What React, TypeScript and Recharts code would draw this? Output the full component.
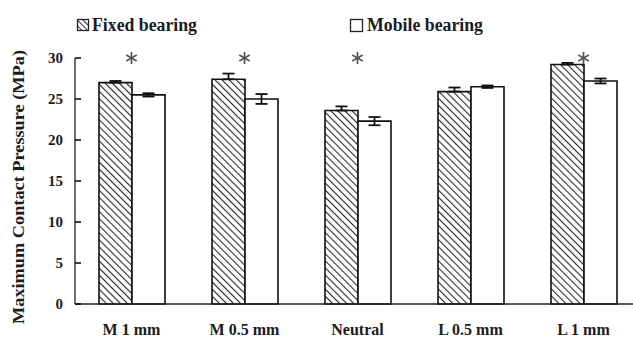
import React from 'react';
import {
  ComposedChart,
  Bar,
  Scatter,
  XAxis,
  YAxis,
  ErrorBar,
  Legend,
} from 'recharts';

// Maximum contact pressure (MPa) per tibial insert position
const categories = ['M 1 mm', 'M 0.5 mm', 'Neutral', 'L 0.5 mm', 'L 1 mm'];
const fixedValues = [27.0, 27.4, 23.6, 25.9, 29.2];
const fixedErrors = [0.2, 0.7, 0.5, 0.5, 0.2];
const mobileValues = [25.5, 25.0, 22.3, 26.5, 27.2];
const mobileErrors = [0.2, 0.6, 0.5, 0.15, 0.3];
const significant = [true, true, true, false, true];
const yTicks = [0, 5, 10, 15, 20, 25, 30];
const STAR_LEVEL = 30;

// tick marks sit on the boundaries between neighbouring categories
const boundaryTicks = categories.slice(1).map((_, i) => i + 1);

const data = categories.map((cat, i) => ({
  cat,
  fixed: fixedValues[i],
  fixedErr: fixedErrors[i],
  mobile: mobileValues[i],
  mobileErr: mobileErrors[i],
  star: significant[i] ? STAR_LEVEL : null,
}));

const W = 650;
const H = 338;
const MARGIN = { top: 58, right: 10, bottom: 0, left: 0 };
const Y_AXIS_W = 75;
const X_AXIS_H = 34;

const FONT = "'Liberation Serif', 'Times New Roman', serif";
const INK = '#1c1c1c';

const renderXTick = (props: any) => {
  const { x, y, payload, index } = props;
  return (
    <text
      key={`xt-${index}`}
      x={x}
      y={y + 31}
      textAnchor="middle"
      fontFamily={FONT}
      fontWeight="bold"
      fontSize={16}
      fill={INK}
    >
      {payload.value}
    </text>
  );
};

const renderYTick = (props: any) => {
  const { x, y, payload, index } = props;
  return (
    <text
      key={`yt-${index}`}
      x={x}
      y={y + 5}
      textAnchor="end"
      fontFamily={FONT}
      fontWeight="bold"
      fontSize={15}
      fill={INK}
    >
      {payload.value}
    </text>
  );
};

const renderAsterisk = (props: any) => {
  const { cx, cy } = props;
  const star = props.payload ? props.payload.star : props.star;
  if (star == null || cx == null || cy == null || isNaN(cy)) return <g />;
  const r = 6;
  const arms = [90, 30, 150].map((deg) => {
    const a = (deg * Math.PI) / 180;
    return { dx: r * Math.cos(a), dy: r * Math.sin(a) };
  });
  return (
    <g stroke="#555" strokeWidth={1.7} strokeLinecap="butt">
      {arms.map((p, i) => (
        <line key={i} x1={cx - p.dx} y1={cy - p.dy} x2={cx + p.dx} y2={cy + p.dy} />
      ))}
    </g>
  );
};

const renderLegend = () => (
  <svg width={633} height={40} style={{ display: 'block' }}>
    <defs>
      <pattern id="legendHatch" patternUnits="userSpaceOnUse" width={4} height={4} patternTransform="rotate(-45)">
        <rect width={4} height={4} fill="#fff" />
        <line x1={0} y1={0} x2={0} y2={4} stroke="#333" strokeWidth={2} />
      </pattern>
    </defs>
    <rect x={77.5} y={19.5} width={11} height={11} fill="url(#legendHatch)" stroke="#222" strokeWidth={1.3} />
    <text
      x={92}
      y={31}
      fontFamily={FONT}
      fontWeight="bold"
      fontSize={18}
      fill={INK}
      textLength={105}
      lengthAdjust="spacingAndGlyphs"
    >
      Fixed bearing
    </text>
    <rect x={350.5} y={19.5} width={12} height={12} fill="#fff" stroke="#222" strokeWidth={1.3} />
    <text
      x={367}
      y={31}
      fontFamily={FONT}
      fontWeight="bold"
      fontSize={18}
      fill={INK}
      textLength={116}
      lengthAdjust="spacingAndGlyphs"
    >
      Mobile bearing
    </text>
  </svg>
);

const renderYLabel = (props: any) => {
  const vb = props.viewBox || { x: 0, y: 0, width: 0, height: 0 };
  const cx = vb.x + 18;
  const cy = vb.y + vb.height / 2 + 6;
  return (
    <text
      x={cx}
      y={cy}
      transform={`rotate(-90 ${cx} ${cy})`}
      textAnchor="middle"
      dominantBaseline="central"
      fontFamily={FONT}
      fontWeight="bold"
      fontSize={16}
      fill={INK}
      textLength={274}
      lengthAdjust="spacingAndGlyphs"
    >
      Maximum Contact Pressure (MPa)
    </text>
  );
};

// fixed-bearing whiskers are drawn upward only; the lower half sits inside the hatching
const fixedWhisker = (d: any) => [0, d.fixedErr];

export default function App() {
  return (
    <div
      style={{
        position: 'absolute',
        left: 0,
        top: 0,
        width: 633,
        height: 338,
        overflow: 'hidden',
        background: '#fff',
      }}
    >
      <ComposedChart width={W} height={H} data={data} margin={MARGIN} barGap={0} barSize={33}>
        <defs>
          <pattern id="hatch" patternUnits="userSpaceOnUse" width={5} height={5} patternTransform="rotate(-45)">
            <rect width={5} height={5} fill="#fff" />
            <line x1={0} y1={0} x2={0} y2={5} stroke="#2a2a2a" strokeWidth={2.2} />
          </pattern>
        </defs>
        <XAxis
          xAxisId="edges"
          type="number"
          domain={[0, categories.length]}
          ticks={boundaryTicks}
          height={0}
          tickSize={-6}
          tick={false}
          tickLine={{ stroke: '#111', strokeWidth: 1.6 }}
          axisLine={false}
        />
        <XAxis
          dataKey="cat"
          height={X_AXIS_H}
          interval={0}
          tickSize={0}
          tickMargin={0}
          tickLine={false}
          axisLine={{ stroke: '#222', strokeWidth: 1.3 }}
          tick={renderXTick}
        />
        <YAxis
          width={Y_AXIS_W}
          domain={[0, 30]}
          ticks={yTicks}
          tickSize={-6}
          tickMargin={18}
          tickLine={{ stroke: '#111', strokeWidth: 1.6 }}
          axisLine={{ stroke: '#222', strokeWidth: 1.3 }}
          tick={renderYTick}
          label={{ content: renderYLabel }}
        />
        <Legend
          verticalAlign="middle"
          wrapperStyle={{ top: 0, left: 0, width: 633, height: 40 }}
          content={renderLegend}
        />
        <Bar dataKey="fixed" name="Fixed bearing" fill="url(#hatch)" stroke="#111" strokeWidth={1.6} isAnimationActive={false}>
          <ErrorBar dataKey={fixedWhisker} width={6} stroke="#111" strokeWidth={1.8} direction="y" />
        </Bar>
        <Bar dataKey="mobile" name="Mobile bearing" fill="#fff" stroke="#111" strokeWidth={1.6} isAnimationActive={false}>
          <ErrorBar dataKey="mobileErr" width={6} stroke="#111" strokeWidth={1.8} direction="y" />
        </Bar>
        <Scatter dataKey="star" shape={renderAsterisk} isAnimationActive={false} legendType="none" />
      </ComposedChart>
    </div>
  );
}
